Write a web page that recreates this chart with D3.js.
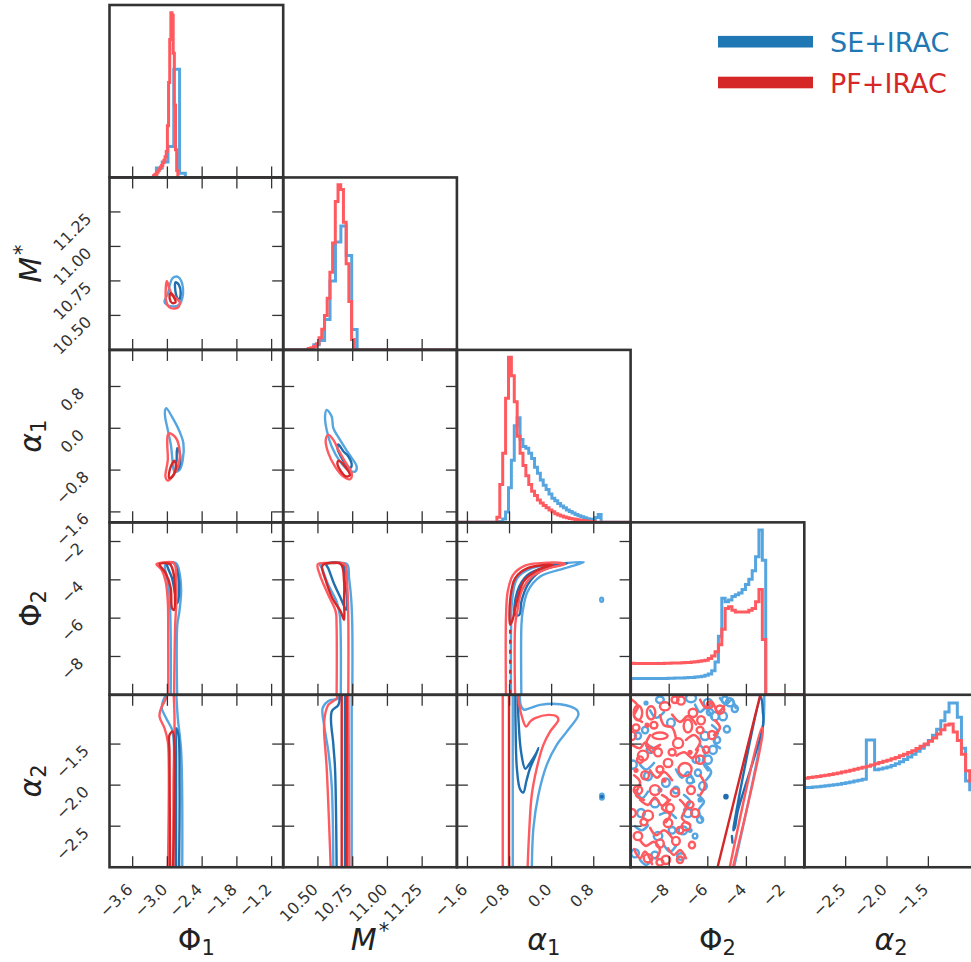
<!DOCTYPE html>
<html>
<head>
<meta charset="utf-8">
<script src="https://cdn.jsdelivr.net/npm/d3@7"></script>
<style>
  body { margin: 0; background: #fff; }
  svg { display: block; }
  text { font-family: "DejaVu Sans", sans-serif; }
</style>
</head>
<body>
<svg id="chart" width="971" height="962"></svg>
<script>
// ---------------- parameters ----------------
const paramRanges = [[-4, -1], [10.25, 11.5], [-1.8, 1.5], [-10, -1], [-3.0, -0.9]];
const paramTicks = [
  [-3.6, -3.0, -2.4, -1.8, -1.2],
  [10.5, 10.75, 11.0, 11.25],
  [-1.6, -0.8, 0.0, 0.8],
  [-8, -6, -4, -2],
  [-2.5, -2.0, -1.5]
];
const paramTickLabels = [
  ["−3.6", "−3.0", "−2.4", "−1.8", "−1.2"],
  ["10.50", "10.75", "11.00", "11.25"],
  ["−1.6", "−0.8", "0.0", "0.8"],
  ["−8", "−6", "−4", "−2"],
  ["−2.5", "−2.0", "−1.5"]
];
// label pieces: main glyph, subscript/superscript, italic
const paramLabels = [
  { main: "Φ", sub: "1", italic: false },
  { main: "M", sup: "*", italic: true },
  { main: "α", sub: "1", italic: true },
  { main: "Φ", sub: "2", italic: false },
  { main: "α", sub: "2", italic: true }
];
const seriesNames = ["SE+IRAC", "PF+IRAC"];

// ---------------- 1D marginals (relative heights per bin) ----------------
const phi1HistSE   = { start: -3.19, width: 0.1, heights: [0.055, 0.09, 0.18, 0.628, 0.025] };
const phi1HistPF   = { start: -3.24, width: 0.02, heights: [0.01, 0.015, 0.02, 0.03, 0.04, 0.05, 0.06, 0.07, 0.085, 0.10, 0.12, 0.15, 0.30, 0.55, 0.80, 0.955, 0.94, 0.72, 0.42, 0.16, 0.04] };
const mstarHistSE  = { start: 10.47, width: 0.039, heights: [0.03, 0.054, 0.177, 0.40, 0.625, 0.718, 0.548, 0.119] };
const mstarHistPF  = { start: 10.43, width: 0.0195, heights: [0.008, 0.012, 0.02, 0.035, 0.07, 0.12, 0.2, 0.3, 0.45, 0.62, 0.86, 0.958, 0.93, 0.74, 0.50, 0.28, 0.06] };
const alpha1HistSE = { start: -1.04, width: 0.055, heights: [0, 0.005, 0.02, 0.06, 0.2, 0.36, 0.56, 0.606, 0.48, 0.44, 0.43, 0.40, 0.37, 0.32, 0.285, 0.245, 0.215, 0.19, 0.165, 0.14, 0.125, 0.11, 0.095, 0.085, 0.072, 0.063, 0.054, 0.045, 0.038, 0.032, 0.026, 0.021, 0.018, 0.016, 0.028, 0.046] };
const alpha1HistPF = { start: -1.04, width: 0.055, heights: [0.03, 0.22, 0.40, 0.72, 0.958, 0.85, 0.70, 0.50, 0.40, 0.33, 0.27, 0.22, 0.18, 0.155, 0.13, 0.112, 0.097, 0.085, 0.072, 0.061, 0.050, 0.043, 0.037, 0.031, 0.027, 0.023, 0.019, 0.016, 0.013, 0.011, 0.009, 0.007, 0.005, 0.003] };
const phi2HistSE   = { start: -10, width: 0.175, heights: [0.095, 0.095, 0.094, 0.094, 0.094, 0.094, 0.094, 0.094, 0.095, 0.095, 0.095, 0.096, 0.096, 0.097, 0.097, 0.098, 0.099, 0.100, 0.101, 0.103, 0.105, 0.108, 0.113, 0.12, 0.14, 0.19, 0.34, 0.56, 0.54, 0.55, 0.57, 0.58, 0.59, 0.61, 0.64, 0.67, 0.72, 0.80, 0.956, 0.78] };
const phi2HistPF   = { start: -10, width: 0.175, heights: [0.183, 0.182, 0.182, 0.181, 0.181, 0.181, 0.181, 0.182, 0.182, 0.182, 0.183, 0.183, 0.184, 0.184, 0.185, 0.186, 0.187, 0.188, 0.19, 0.192, 0.195, 0.198, 0.20, 0.21, 0.225, 0.25, 0.29, 0.38, 0.50, 0.51, 0.49, 0.48, 0.48, 0.48, 0.48, 0.49, 0.50, 0.54, 0.61, 0.32] };
const alpha2HistSE = { start: -3.0, width: 0.05, heights: [0.462, 0.463, 0.465, 0.467, 0.470, 0.472, 0.475, 0.478, 0.482, 0.486, 0.490, 0.495, 0.500, 0.505, 0.510, 0.738, 0.738, 0.565, 0.570, 0.575, 0.582, 0.590, 0.600, 0.612, 0.625, 0.640, 0.655, 0.672, 0.690, 0.710, 0.735, 0.765, 0.800, 0.850, 0.900, 0.952, 0.952, 0.870, 0.690, 0.500, 0.450, 0.420] };
const alpha2HistPF = { start: -3.0, width: 0.05, heights: [0.516, 0.520, 0.523, 0.526, 0.530, 0.534, 0.538, 0.542, 0.547, 0.552, 0.557, 0.562, 0.568, 0.574, 0.580, 0.586, 0.593, 0.600, 0.607, 0.614, 0.621, 0.629, 0.637, 0.646, 0.655, 0.665, 0.676, 0.688, 0.701, 0.715, 0.731, 0.750, 0.772, 0.797, 0.825, 0.830, 0.785, 0.735, 0.655, 0.560, 0.500, 0.450] };

// ---------------- 2D contour lines (x value, y value) ----------------
const phi1VsMstar = [
  { set: "SE", level: "outer", closed: true, pts: [[-2.91,10.77],[-2.82,10.78],[-2.76,10.75],[-2.73,10.69],[-2.74,10.63],[-2.79,10.58],[-2.88,10.565],[-3.02,10.58],[-3.05,10.60],[-2.99,10.66],[-2.96,10.72]] },
  { set: "SE", level: "inner", closed: true, pts: [[-2.86,10.74],[-2.80,10.72],[-2.77,10.66],[-2.80,10.61],[-2.85,10.65]] },
  { set: "PF", level: "outer", closed: true, pts: [[-3.01,10.75],[-2.97,10.70],[-2.93,10.66],[-2.86,10.63],[-2.79,10.60],[-2.80,10.565],[-2.87,10.55],[-2.97,10.56],[-3.02,10.60],[-3.03,10.68]] },
  { set: "PF", level: "inner", closed: true, pts: [[-2.95,10.66],[-2.88,10.625],[-2.86,10.595],[-2.92,10.59],[-2.96,10.62]] }
];
const phi1VsAlpha1 = [
  { set: "SE", level: "outer", closed: true, pts: [[-3.04,0.35],[-3.02,0.385],[-2.907,0.193],[-2.79,-0.063],[-2.724,-0.286],[-2.734,-0.605],[-2.79,-0.797],[-2.877,-0.829],[-2.907,-0.669],[-2.936,-0.35],[-2.993,-0.031],[-3.04,0.224]] },
  { set: "SE", level: "inner", closed: true, pts: [[-2.83,-0.38],[-2.78,-0.50],[-2.80,-0.75],[-2.85,-0.80],[-2.84,-0.60]] },
  { set: "PF", level: "outer", closed: true, pts: [[-2.964,-0.094],[-2.85,-0.19],[-2.79,-0.414],[-2.80,-0.669],[-2.877,-0.86],[-2.993,-1.002],[-3.033,-0.925],[-2.993,-0.605],[-3.003,-0.286],[-2.993,-0.13]] },
  { set: "PF", level: "inner", closed: true, pts: [[-2.88,-0.62],[-2.85,-0.72],[-2.91,-0.92],[-2.97,-0.95],[-2.96,-0.80],[-2.92,-0.68]] }
];
const mstarVsAlpha1 = [
  { set: "SE", level: "outer", closed: true, pts: [[10.563,0.352],[10.599,0.224],[10.611,0.002],[10.659,-0.222],[10.719,-0.477],[10.779,-0.734],[10.767,-0.829],[10.719,-0.797],[10.659,-0.638],[10.599,-0.35],[10.563,-0.031],[10.551,0.224]] },
  { set: "SE", level: "inner", closed: true, pts: [[10.647,-0.31],[10.683,-0.44],[10.719,-0.54],[10.743,-0.70],[10.731,-0.76],[10.695,-0.67],[10.659,-0.51],[10.64,-0.38]] },
  { set: "PF", level: "outer", closed: true, pts: [[10.575,-0.126],[10.611,-0.222],[10.647,-0.414],[10.695,-0.638],[10.743,-0.86],[10.731,-0.975],[10.683,-0.925],[10.623,-0.734],[10.575,-0.477],[10.556,-0.222]] },
  { set: "PF", level: "inner", closed: true, pts: [[10.65,-0.62],[10.70,-0.75],[10.73,-0.90],[10.70,-0.92],[10.66,-0.80],[10.64,-0.68]] }
];
const phi1VsPhi2 = [
  { set: "SE", level: "outer", closed: false, pts: [[-2.943,-10.5],[-2.943,-7],[-2.958,-5.13],[-2.993,-4.09],[-3.044,-3.3],[-3.02,-3.13],[-2.85,-3.13],[-2.78,-3.83],[-2.763,-4.61],[-2.793,-5.66],[-2.829,-6.35],[-2.829,-10.5]] },
  { set: "SE", level: "inner", closed: true, pts: [[-3.01,-3.13],[-2.886,-3.13],[-2.815,-3.74],[-2.80,-4.78],[-2.83,-5.22],[-2.865,-4.78],[-2.92,-3.91],[-2.99,-3.39]] },
  { set: "PF", level: "outer", closed: false, pts: [[-2.986,-10.5],[-2.986,-7],[-2.993,-5.13],[-3.03,-4.09],[-3.10,-3.48],[-3.188,-3.18],[-3.10,-3.10],[-2.886,-3.13],[-2.85,-3.74],[-2.843,-4.96],[-2.865,-6.35],[-2.886,-10.5]] },
  { set: "PF", level: "inner", closed: true, pts: [[-3.136,-3.18],[-2.958,-3.18],[-2.90,-3.57],[-2.87,-4.61],[-2.886,-5.57],[-2.92,-5.48],[-2.943,-4.43],[-3.03,-3.65],[-3.116,-3.31]] }
];
const mstarVsPhi2 = [
  { set: "SE", level: "outer", closed: false, pts: [[10.664,-10.5],[10.664,-7],[10.657,-5.83],[10.634,-5.13],[10.574,-4.26],[10.529,-3.39],[10.514,-3.18],[10.60,-3.13],[10.709,-3.18],[10.724,-3.91],[10.739,-4.96],[10.747,-6.35],[10.747,-10.5]] },
  { set: "SE", level: "inner", closed: true, pts: [[10.559,-3.18],[10.679,-3.18],[10.693,-4.09],[10.709,-4.96],[10.703,-5.57],[10.664,-4.96],[10.619,-4.26],[10.574,-3.39]] },
  { set: "PF", level: "outer", closed: false, pts: [[10.634,-10.5],[10.634,-6.35],[10.628,-5.66],[10.574,-4.78],[10.514,-3.74],[10.499,-3.18],[10.60,-3.13],[10.693,-3.18],[10.709,-4.09],[10.718,-5.83],[10.718,-10.5]] },
  { set: "PF", level: "inner", closed: true, pts: [[10.544,-3.18],[10.664,-3.18],[10.688,-4.09],[10.688,-5.13],[10.688,-6.09],[10.664,-5.66],[10.604,-4.96],[10.559,-4.09],[10.529,-3.31]] }
];
const alpha1VsPhi2 = [
  { set: "SE", level: "outer", closed: false, pts: [[-0.771,-10.5],[-0.771,-6.5],[-0.747,-4.96],[-0.653,-3.91],[-0.376,-3.39],[0.097,-3.18],[0.61,-3.08],[0.255,-3.39],[-0.218,-3.83],[-0.456,-4.61],[-0.551,-5.66],[-0.574,-6.35],[-0.574,-10.5]] },
  { set: "SE", level: "outer", closed: true, pts: [[0.93,-4.95],[0.97,-4.95],[0.97,-5.13],[0.93,-5.13]] },
  { set: "SE", level: "inner", closed: true, pts: [[-0.692,-5.83],[-0.653,-4.61],[-0.456,-3.74],[-0.06,-3.31],[0.295,-3.13],[-0.218,-3.57],[-0.456,-4.26],[-0.574,-5.13],[-0.614,-5.83]] },
  { set: "PF", level: "outer", closed: false, pts: [[-0.866,-10.5],[-0.866,-5.83],[-0.834,-4.61],[-0.732,-3.74],[-0.496,-3.25],[-0.218,-3.13],[0.215,-3.13],[0.255,-3.18],[-0.06,-3.39],[-0.376,-3.83],[-0.574,-4.61],[-0.653,-5.66],[-0.692,-6.35],[-0.692,-10.5]] },
  { set: "PF", level: "inner", closed: true, pts: [[-0.787,-6.35],[-0.787,-5.0],[-0.692,-3.91],[-0.456,-3.39],[0.017,-3.22],[-0.258,-3.48],[-0.534,-4.09],[-0.692,-5.48],[-0.732,-6.0]] },
  { set: "PF", level: "inner", closed: false, dash: true, pts: [[-0.787,-6.6],[-0.787,-10.5]] }
];
const phi1VsAlpha2 = [
  { set: "SE", level: "outer", closed: false, pts: [[-2.993,-0.85],[-3.079,-0.984],[-3.097,-1.063],[-3.021,-1.185],[-2.917,-1.328],[-2.895,-1.429],[-2.877,-1.794],[-2.86,-3.1]] },
  { set: "SE", level: "outer", closed: false, pts: [[-2.85,-0.85],[-2.82,-1.185],[-2.762,-1.592],[-2.744,-3.1]] },
  { set: "SE", level: "inner", closed: false, pts: [[-2.85,-3.1],[-2.85,-1.592],[-2.85,-1.307],[-2.81,-1.388],[-2.79,-2.0],[-2.80,-3.1]] },
  { set: "PF", level: "outer", closed: false, pts: [[-2.964,-0.85],[-3.05,-0.98],[-3.119,-1.084],[-3.136,-1.165],[-3.05,-1.307],[-2.993,-1.47],[-2.976,-1.794],[-2.993,-3.1]] },
  { set: "PF", level: "outer", closed: false, pts: [[-2.895,-0.85],[-2.877,-1.185],[-2.895,-2.0],[-2.895,-3.1]] },
  { set: "PF", level: "inner", closed: false, pts: [[-2.952,-3.1],[-2.964,-1.592],[-2.964,-1.388],[-2.907,-1.348],[-2.877,-1.592],[-2.907,-3.1]] }
];
const mstarVsAlpha2 = [
  { set: "SE", level: "outer", closed: false, pts: [[10.647,-0.85],[10.647,-0.941],[10.575,-0.974],[10.534,-1.063],[10.544,-1.267],[10.575,-1.592],[10.599,-2.0],[10.611,-3.1]] },
  { set: "SE", level: "outer", closed: false, pts: [[10.743,-0.85],[10.743,-3.1]] },
  { set: "SE", level: "inner", closed: false, pts: [[10.66,-0.85],[10.647,-1.023],[10.599,-1.104],[10.611,-1.51],[10.623,-1.794],[10.635,-3.1]] },
  { set: "SE", level: "inner", closed: false, pts: [[10.695,-0.85],[10.695,-3.1]] },
  { set: "PF", level: "outer", closed: false, pts: [[10.635,-0.85],[10.635,-0.941],[10.575,-1.023],[10.551,-1.145],[10.544,-1.307],[10.563,-1.794],[10.594,-3.1]] },
  { set: "PF", level: "outer", closed: false, pts: [[10.719,-0.85],[10.726,-3.1]] },
  { set: "PF", level: "inner", closed: false, pts: [[10.671,-0.85],[10.671,-3.1]] },
  { set: "PF", level: "inner", closed: false, pts: [[10.707,-0.85],[10.707,-3.1]] }
];
const alpha1VsAlpha2 = [
  { set: "SE", level: "outer", closed: false, pts: [[-0.739,-0.85],[-0.739,-3.1]] },
  { set: "SE", level: "outer", closed: false, pts: [[-0.60,-0.85],[-0.59,-1.02],[-0.53,-1.08],[-0.41,-1.063],[-0.22,-1.023],[0.16,-1.015],[0.478,-1.084],[0.508,-1.145],[0.288,-1.348],[0.097,-1.51],[-0.093,-1.754],[-0.252,-2.12],[-0.347,-2.525],[-0.378,-3.1]] },
  { set: "SE", level: "outer", closed: true, pts: [[0.93,-2.11],[0.98,-2.11],[0.98,-2.17],[0.93,-2.17]] },
  { set: "SE", level: "inner", closed: false, pts: [[-0.69,-0.85],[-0.685,-1.3],[-0.66,-1.8],[-0.60,-2.05],[-0.538,-2.09],[-0.48,-1.95],[-0.41,-1.794],[-0.315,-1.653],[-0.25,-1.55],[-0.30,-1.62],[-0.40,-1.72],[-0.50,-1.80],[-0.58,-1.60],[-0.63,-1.2],[-0.64,-0.85]] },
  { set: "PF", level: "outer", closed: false, pts: [[-0.929,-0.85],[-0.929,-3.1]] },
  { set: "PF", level: "outer", closed: false, pts: [[-0.633,-0.85],[-0.62,-1.0],[-0.55,-1.2],[-0.486,-1.287],[-0.40,-1.22],[-0.315,-1.185],[-0.062,-1.145],[0.097,-1.165],[0.128,-1.206],[-0.03,-1.348],[-0.157,-1.51],[-0.283,-1.794],[-0.378,-2.12],[-0.43,-2.607],[-0.462,-3.1]] },
  { set: "PF", level: "inner", closed: false, pts: [[-0.81,-0.85],[-0.81,-3.1]] }
];
const phi2VsAlpha2 = [
  { set: "SE", level: "outer", closed: false, pts: [[-4.74,-3.1],[-3.13,-1.25],[-3.08,-0.88]] },
  { set: "SE", level: "inner", closed: true, pts: [[-3.24,-0.93],[-4.62,-2.45],[-4.68,-2.55],[-4.60,-2.52],[-4.45,-2.32],[-3.13,-1.26],[-3.15,-1.10]] },
  { set: "SE", level: "inner", closed: false, pts: [[-4.75,-2.62],[-4.72,-2.70]] },
  { set: "PF", level: "outer", closed: false, pts: [[-4.95,-3.1],[-3.20,-1.30],[-3.15,-1.32],[-4.80,-3.1]] },
  { set: "PF", level: "inner", closed: false, pts: [[-5.60,-3.1],[-3.28,-0.9]] }
];

// isolated islands in the Φ2–α2 plane: [Φ2, α2, half-width in Φ2, half-height in α2]
const phi2Alpha2IslandsSE = [
  [-6.87,-0.94,0.26,0.05],[-5.99,-1.00,0.22,0.05],[-5.63,-1.16,0.2,0.05],[-6.15,-1.40,0.22,0.05],
  [-5.99,-1.69,0.2,0.05],[-6.25,-2.01,0.2,0.05],[-9.62,-1.40,0.16,0.04],[-9.88,-1.75,0.2,0.05],
  [-8.74,-2.22,0.22,0.05],[-7.03,-2.34,0.22,0.05],[-7.29,-2.55,0.22,0.05],[-9.46,-2.34,0.2,0.05],
  [-8.58,-2.62,0.22,0.05],[-9.77,-2.83,0.2,0.05],[-7.39,-2.87,0.2,0.04],[-7.91,-1.24,0.2,0.05],
  [-9.10,-1.89,0.2,0.05],[-6.66,-2.62,0.12,0.03],[-8.17,-1.97,0.2,0.05],[-4.86,-0.99,0.2,0.05],
  [-4.60,-1.07,0.16,0.04],[-5.21,-1.16,0.2,0.05],[-5.01,-1.32,0.16,0.04],[-5.73,-1.57,0.2,0.05],
  [-5.52,-1.45,0.16,0.04],[-6.51,-1.85,0.16,0.04],[-8.48,-0.96,0.2,0.04],[-9.25,-1.33,0.16,0.04],
  [-7.65,-2.06,0.16,0.04],[-8.99,-1.57,0.18,0.04],[-6.61,-1.69,0.18,0.04],[-6.92,-1.94,0.18,0.04],
  [-7.85,-2.55,0.18,0.04],[-8.74,-2.85,0.18,0.04],[-5.89,-1.11,0.16,0.04],[-5.11,-0.96,0.16,0.04],
  [-6.40,-2.42,0.16,0.04]
];
const phi2Alpha2IslandsPF = [
  [-9.62,-1.12,0.22,0.09],[-8.94,-1.12,0.22,0.08],[-8.22,-1.04,0.26,0.05],[-7.39,-0.97,0.2,0.05],
  [-6.77,-1.12,0.22,0.05],[-7.03,-1.28,0.22,0.08],[-8.48,-1.40,0.4,0.04],[-7.54,-1.49,0.26,0.06],
  [-9.36,-1.64,0.26,0.06],[-7.18,-1.81,0.34,0.08],[-8.06,-1.73,0.22,0.05],[-9.62,-2.06,0.22,0.05],
  [-8.74,-2.06,0.26,0.06],[-7.70,-2.09,0.22,0.05],[-6.87,-2.06,0.2,0.05],[-9.10,-2.37,0.26,0.06],
  [-8.06,-2.46,0.22,0.05],[-9.62,-2.62,0.22,0.05],[-7.65,-2.68,0.2,0.05],[-9.10,-2.89,0.22,0.05],
  [-8.17,-2.91,0.22,0.05],[-6.35,-1.21,0.2,0.05],[-6.40,-1.69,0.22,0.05],[-9.93,-1.40,0.2,0.05],
  [-8.58,-1.60,0.2,0.05],[-9.93,-2.34,0.2,0.05],[-8.48,-2.71,0.2,0.05],[-7.13,-2.50,0.22,0.05],
  [-6.66,-2.34,0.2,0.05],[-5.37,-1.08,0.22,0.05],[-5.78,-1.39,0.2,0.05],[-6.09,-1.57,0.16,0.04],
  [-9.25,-1.88,0.2,0.05],[-7.96,-2.28,0.2,0.05],[-7.44,-2.91,0.16,0.04],[-6.82,-2.73,0.16,0.04],
  [-5.89,-1.02,0.16,0.04],[-9.72,-1.30,0.18,0.04],[-8.79,-1.27,0.18,0.04],[-7.85,-1.60,0.18,0.04],
  [-8.48,-1.81,0.18,0.04],[-6.92,-2.24,0.18,0.04],[-9.31,-2.45,0.18,0.04],[-7.44,-2.55,0.18,0.04],
  [-8.48,-2.94,0.18,0.04],[-9.51,-1.69,0.16,0.04],[-6.40,-1.33,0.18,0.04],[-7.70,-0.96,0.18,0.04]
];
// wandering open fragments in the same plane
const phi2Alpha2WormsSE = [
  [[-6.66,-1.02],[-6.40,-1.11],[-6.09,-1.06],[-5.78,-1.18]],
  [[-9.51,-1.75],[-9.20,-1.81],[-8.79,-1.73]],
  [[-8.48,-2.36],[-8.06,-2.33],[-7.65,-2.40]],
  [[-6.40,-1.51],[-6.15,-1.60],[-6.25,-1.72],[-5.99,-1.82]],
  [[-9.77,-2.50],[-9.41,-2.55],[-9.10,-2.49]],
  [[-5.37,-0.94],[-5.06,-1.02],[-4.76,-0.96],[-4.55,-1.06]],
  [[-5.78,-1.27],[-5.47,-1.35],[-5.68,-1.47],[-5.37,-1.55]],
  [[-6.15,-1.75],[-5.83,-1.84],[-6.09,-1.94]],
  [[-6.51,-2.12],[-6.20,-2.20],[-6.46,-2.30],[-6.30,-2.42]],
  [[-9.72,-2.06],[-9.41,-2.16],[-9.10,-2.08]],
  [[-7.65,-1.81],[-7.34,-1.91],[-7.03,-1.84],[-6.71,-1.96]],
  [[-8.27,-2.73],[-7.96,-2.81],[-7.65,-2.74]],
  [[-9.51,-2.91],[-9.20,-2.97],[-8.89,-2.91]],
  [[-8.99,-1.09],[-8.68,-1.18],[-8.27,-1.11]],
  [[-7.23,-2.12],[-6.92,-2.20],[-7.23,-2.30]]
];
const phi2Alpha2WormsPF = [
  [[-9.92,-1.51],[-9.51,-1.55],[-9.25,-1.48],[-8.89,-1.55],[-8.48,-1.51]],
  [[-8.99,-1.82],[-8.63,-1.91],[-8.27,-1.84],[-7.85,-1.94]],
  [[-9.51,-2.18],[-9.10,-2.24],[-8.74,-2.15],[-8.38,-2.25],[-7.96,-2.18]],
  [[-8.99,-2.52],[-8.68,-2.61],[-8.27,-2.55],[-7.85,-2.64]],
  [[-7.85,-1.14],[-7.44,-1.23],[-7.03,-1.16],[-6.61,-1.26]],
  [[-9.82,-2.78],[-9.51,-2.89],[-9.25,-2.81],[-8.89,-2.96]],
  [[-7.62,-1.64],[-7.21,-1.60],[-6.80,-1.67],[-6.51,-1.57]],
  [[-6.40,-0.96],[-6.09,-1.06],[-5.78,-0.99],[-5.47,-1.11],[-5.16,-1.04]],
  [[-9.93,-0.96],[-9.62,-1.04],[-9.82,-1.16],[-9.41,-1.23]],
  [[-8.48,-1.15],[-8.27,-1.27],[-7.85,-1.30],[-7.65,-1.43]],
  [[-7.13,-1.45],[-6.71,-1.39],[-6.40,-1.47],[-6.61,-1.57]],
  [[-9.82,-1.88],[-9.51,-1.96],[-9.72,-2.12],[-9.31,-2.18]],
  [[-8.37,-2.12],[-8.06,-2.18],[-8.37,-2.28],[-7.96,-2.36],[-8.17,-2.45]],
  [[-7.44,-2.18],[-7.13,-2.28],[-7.34,-2.40],[-6.92,-2.48]],
  [[-9.51,-2.67],[-9.20,-2.74],[-8.79,-2.69],[-8.48,-2.79],[-8.68,-2.89]],
  [[-8.06,-2.77],[-7.75,-2.85],[-7.44,-2.79],[-7.13,-2.89]],
  [[-6.40,-1.88],[-6.15,-2.00],[-6.40,-2.12]],
  [[-5.63,-1.21],[-5.37,-1.30],[-5.68,-1.39]],
  [[-8.99,-1.39],[-9.20,-1.51],[-8.89,-1.60]]
];
const phi2Alpha2DotsSE = [[-9.20,-1.00],[-8.48,-2.06],[-6.92,-2.55],[-6.40,-2.18]];
const phi2Alpha2DarkDotsSE = [[-5.06,-2.14]];
const phi2Alpha2DotsPF = [[-9.15,-1.27],[-9.72,-1.82],[-6.92,-1.60],[-8.27,-1.94]];
const alpha1Alpha2DotsSE = [[0.953,-2.14]];

// ---------------- layout ----------------
const gridLeft = 109.5, gridTop = 5, cellW = 173.7, cellH = 172.45;
const tickLen = 11;
const axisColor = "#333333";
const palette = {
  SE: { outer: "#55a5e0", inner: "#1f6fb0", hist: "#55a5e0", legend: "#1f77b4" },
  PF: { outer: "#ff5a5f", inner: "#d62728", hist: "#ff5a5f", legend: "#d62728" }
};

const histograms = [
  [phi1HistSE, phi1HistPF],
  [mstarHistSE, mstarHistPF],
  [alpha1HistSE, alpha1HistPF],
  [phi2HistSE, phi2HistPF],
  [alpha2HistSE, alpha2HistPF]
];
const contourPanels = {
  "1,0": phi1VsMstar, "2,0": phi1VsAlpha1, "2,1": mstarVsAlpha1,
  "3,0": phi1VsPhi2, "3,1": mstarVsPhi2, "3,2": alpha1VsPhi2,
  "4,0": phi1VsAlpha2, "4,1": mstarVsAlpha2, "4,2": alpha1VsAlpha2, "4,3": phi2VsAlpha2
};

const svg = d3.select("#chart");
const defs = svg.append("defs");

const xScaleFor = j => d3.scaleLinear().domain(paramRanges[j]).range([gridLeft + j * cellW, gridLeft + (j + 1) * cellW]);
const yScaleFor = i => d3.scaleLinear().domain(paramRanges[i]).range([gridTop + (i + 1) * cellH, gridTop + i * cellH]);

function addClip(id, x0, y0) {
  defs.append("clipPath").attr("id", id).append("rect")
    .attr("x", x0).attr("y", y0).attr("width", cellW).attr("height", cellH);
}

function stepPoints(h, range) {
  const pts = [[range[0], 0], [h.start, 0]];
  h.heights.forEach((v, k) => {
    const e0 = h.start + k * h.width, e1 = e0 + h.width;
    pts.push([e0, v], [e1, v]);
  });
  pts.push([h.start + h.heights.length * h.width, 0], [range[1], 0]);
  return pts;
}

function drawContourSet(g, xs, ys, items, set) {
  items.filter(d => d.set === set && d.level === "outer")
    .concat(items.filter(d => d.set === set && d.level === "inner"))
    .forEach(d => {
      const curve = d.closed ? d3.curveCatmullRomClosed.alpha(0.5) : d3.curveCatmullRom.alpha(0.5);
      const line = d3.line().x(p => xs(p[0])).y(p => ys(p[1])).curve(curve);
      g.append("path")
        .attr("d", line(d.pts))
        .attr("fill", "none")
        .attr("stroke", palette[set][d.level])
        .attr("stroke-width", 2.4)
        .attr("stroke-linejoin", "round")
        .attr("stroke-linecap", d.dash ? "butt" : "round")
        .attr("stroke-dasharray", d.dash ? "4,6" : null);
    });
}

function drawIslands(g, xs, ys, islands, worms, dots, set) {
  const color = palette[set].outer;
  const wormLine = d3.line().x(p => xs(p[0])).y(p => ys(p[1])).curve(d3.curveCatmullRom.alpha(0.5));
  worms.forEach(w => g.append("path").attr("d", wormLine(w)).attr("fill", "none")
    .attr("stroke", color).attr("stroke-width", 2.6).attr("stroke-linecap", "round").attr("stroke-linejoin", "round"));
  islands.forEach(b => {
    g.append("ellipse")
      .attr("cx", xs(b[0])).attr("cy", ys(b[1]))
      .attr("rx", Math.abs(xs(b[0] + b[2]) - xs(b[0])))
      .attr("ry", Math.abs(ys(b[1] + b[3]) - ys(b[1])))
      .attr("fill", "none").attr("stroke", color).attr("stroke-width", 2.4);
  });
  dots.forEach(p => g.append("circle").attr("cx", xs(p[0])).attr("cy", ys(p[1]))
    .attr("r", 2.6).attr("fill", color));
}

const ticksLayer = svg.append("g");

for (let i = 0; i < 5; i++) {
  for (let j = 0; j <= i; j++) {
    const x0 = gridLeft + j * cellW, y0 = gridTop + i * cellH;
    const x1 = x0 + cellW, y1 = y0 + cellH;
    const xs = xScaleFor(j);
    const clipId = `clip-${i}-${j}`;
    addClip(clipId, x0, y0);
    const g = svg.append("g").attr("clip-path", `url(#${clipId})`);

    if (i === j) {
      // 1D marginal
      const yh = d3.scaleLinear().domain([0, 1]).range([y1, y0]);
      const line = d3.line().x(p => xs(p[0])).y(p => yh(p[1]));
      histograms[i].forEach((h, s) => {
        const set = s === 0 ? "SE" : "PF";
        g.append("path").attr("d", line(stepPoints(h, paramRanges[i])))
          .attr("fill", "none").attr("stroke", palette[set].hist)
          .attr("stroke-width", 3).attr("stroke-linejoin", "miter");
      });
      paramTicks[j].forEach(t => {
        ticksLayer.append("line").attr("x1", xs(t)).attr("x2", xs(t))
          .attr("y1", y1).attr("y2", y1 - tickLen)
          .attr("stroke", axisColor).attr("stroke-width", 1.3);
      });
    } else {
      const ys = yScaleFor(i);
      const items = contourPanels[`${i},${j}`];
      ["SE", "PF"].forEach(set => {
        if (i === 4 && j === 3) {
          drawIslands(g, xs, ys,
            set === "SE" ? phi2Alpha2IslandsSE : phi2Alpha2IslandsPF,
            set === "SE" ? phi2Alpha2WormsSE : phi2Alpha2WormsPF,
            set === "SE" ? phi2Alpha2DotsSE : phi2Alpha2DotsPF, set);
        }
        drawContourSet(g, xs, ys, items, set);
      });
      // small dark islands
      if (i === 4 && j === 3) {
        phi2Alpha2DarkDotsSE.forEach(p => g.append("circle").attr("cx", xs(p[0])).attr("cy", ys(p[1]))
          .attr("r", 2.8).attr("fill", palette.SE.inner));
      }
      if (i === 4 && j === 2) {
        alpha1Alpha2DotsSE.forEach(p => g.append("circle").attr("cx", xs(p[0])).attr("cy", ys(p[1]))
          .attr("r", 2).attr("fill", palette.SE.inner));
      }
      // ticks on all four sides, pointing inward
      paramTicks[j].forEach(t => {
        [[y1, y1 - tickLen], [y0, y0 + tickLen]].forEach(([a, b]) =>
          ticksLayer.append("line").attr("x1", xs(t)).attr("x2", xs(t)).attr("y1", a).attr("y2", b)
            .attr("stroke", axisColor).attr("stroke-width", 1.3));
      });
      paramTicks[i].forEach(t => {
        [[x0, x0 + tickLen], [x1, x1 - tickLen]].forEach(([a, b]) =>
          ticksLayer.append("line").attr("y1", ys(t)).attr("y2", ys(t)).attr("x1", a).attr("x2", b)
            .attr("stroke", axisColor).attr("stroke-width", 1.3));
      });
    }
  }
}
svg.node().appendChild(ticksLayer.node());

// frames
const frames = svg.append("g");
for (let i = 0; i < 5; i++) {
  for (let j = 0; j <= i; j++) {
    frames.append("rect")
      .attr("x", gridLeft + j * cellW).attr("y", gridTop + i * cellH)
      .attr("width", cellW).attr("height", cellH)
      .attr("fill", "none").attr("stroke", axisColor).attr("stroke-width", 2.6);
  }
}

// tick labels
const tickFont = 16;
const capShift = 0.707 * 0.729 * tickFont;
const labelsG = svg.append("g").attr("fill", "#333333").attr("font-size", tickFont);
const bottomY = gridTop + 5 * cellH;
for (let j = 0; j < 5; j++) {
  const xs = xScaleFor(j);
  paramTicks[j].forEach((t, k) => {
    labelsG.append("text")
      .attr("text-anchor", "end")
      .attr("transform", `translate(${xs(t) + 1},${bottomY + 15 + capShift}) rotate(-45)`)
      .text(paramTickLabels[j][k]);
  });
}
for (let i = 1; i < 5; i++) {
  const ys = yScaleFor(i);
  paramTicks[i].forEach((t, k) => {
    const txt = labelsG.append("text").attr("text-anchor", "end").text(paramTickLabels[i][k]);
    const w = txt.node().getComputedTextLength();
    const px = 72 + 0.354 * (w + 0.729 * tickFont);
    txt.attr("transform", `translate(${px},${ys(t) + capShift - 0.5}) rotate(-45)`);
  });
}

// axis labels
const axisFont = 30;
function fillLabel(text, lab) {
  text.append("tspan").attr("font-style", lab.italic ? "italic" : "normal").text(lab.main);
  if (lab.sub) text.append("tspan").attr("font-size", axisFont * 0.7).attr("dy", 5).text(lab.sub);
  if (lab.sup) text.append("tspan").attr("font-size", axisFont * 0.7).attr("dy", -12).attr("dx", 2).text(lab.sup);
}
const axisG = svg.append("g").attr("fill", "#222222").attr("font-size", axisFont);
for (let j = 0; j < 5; j++) {
  const t = axisG.append("text").attr("text-anchor", "middle")
    .attr("x", gridLeft + (j + 0.5) * cellW).attr("y", 950);
  fillLabel(t, paramLabels[j]);
}
for (let i = 1; i < 5; i++) {
  const t = axisG.append("text").attr("text-anchor", "middle")
    .attr("transform", `translate(41,${gridTop + (i + 0.5) * cellH}) rotate(-90)`);
  fillLabel(t, paramLabels[i]);
}

// legend
const legend = svg.append("g");
seriesNames.forEach((name, k) => {
  const set = k === 0 ? "SE" : "PF";
  const cy = 41.7 + k * 40.8;
  legend.append("rect").attr("x", 718).attr("y", cy - 5.8).attr("width", 95).attr("height", 11.6)
    .attr("fill", palette[set].legend);
  legend.append("text").attr("x", 830).attr("y", cy + 10.2).attr("font-size", 27)
    .attr("fill", palette[set].legend).text(name);
});
</script>
</body>
</html>
